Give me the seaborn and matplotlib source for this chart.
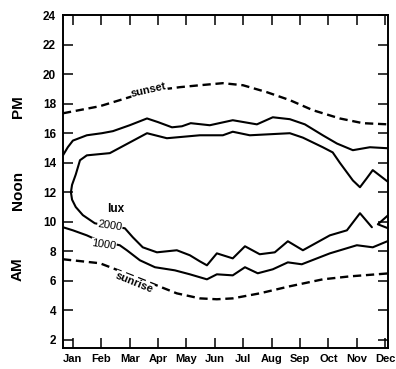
import seaborn as sns
import pandas as pd
import matplotlib.pyplot as plt
import matplotlib.transforms as mtransforms

months = ['Jan', 'Feb', 'Mar', 'Apr', 'May', 'Jun', 'Jul', 'Aug', 'Sep', 'Oct', 'Nov', 'Dec']
hour_ticks = list(range(2, 25, 2))

# month position: 0 = Jan ... 11 = Dec, values are hours of the day
sunset_m = [-0.35, 0.95, 1.65, 2.68, 3.77, 4.47, 5.28, 5.99, 6.83, 7.64, 8.45, 9.4, 10.21, 11.1]
sunset_h = [17.35, 17.83, 18.24, 18.85, 19.12, 19.25, 19.39, 19.25, 18.78, 18.24, 17.56, 17.0, 16.68, 16.6]

sunrise_m = [-0.35, 0.95, 2.15, 3.66, 4.47, 5.07, 5.63, 6.58, 7.64, 8.8, 9.75, 11.1]
sunrise_h = [7.46, 7.19, 6.3, 5.15, 4.81, 4.75, 4.81, 5.15, 5.63, 6.1, 6.3, 6.5]

lux1000_pm_m = [-0.35, -0.18, 0, 0.49, 1.02, 1.41, 2.0, 2.61, 3.0, 3.49, 3.84, 4.15, 4.82,
                5.63, 6.48, 7.04, 7.64, 8.17, 8.8, 9.3, 9.86, 10.46, 11.1]
lux1000_pm_h = [14.5, 15.05, 15.5, 15.86, 16.0, 16.14, 16.54, 17.0, 16.75, 16.4, 16.47, 16.68, 16.54,
                16.88, 16.6, 17.08, 16.95, 16.6, 15.86, 15.3, 14.85, 15.05, 14.98]

lux1000_am_m = [-0.35, 0, 0.49, 0.95, 1.65, 1.9, 2.36, 2.89, 3.59, 4.12, 4.72, 5.07, 5.63,
                6.06, 6.51, 7.04, 7.57, 8.06, 9.05, 10.0, 10.56, 11.1]
lux1000_am_h = [9.63, 9.42, 9.08, 8.68, 8.41, 8.07, 7.39, 6.92, 6.71, 6.44, 6.1, 6.44, 6.37,
                6.92, 6.51, 6.78, 7.25, 7.12, 7.86, 8.41, 8.27, 8.7]

# 2000 lux contour, traced from the right edge (evening) round the left end to the morning side
lux2000_m = [11.1, 10.56, 10.35, 10.11, 9.86, 9.4, 9.15, 8.8, 8.1, 7.64, 6.23, 5.63, 5.28, 4.47,
             3.31, 2.61, 1.3, 0.49, 0.25, 0.1, -0.03, -0.07, -0.03, 0.1, 0.35, 0.77, 1.3, 1.83,
             2.11, 2.46, 2.96, 3.66, 4.12, 4.47, 4.72, 5.07, 5.63, 6.06, 6.58, 7.11, 7.57, 8.1,
             9.05, 9.65, 10.11, 10.53]
lux2000_h = [12.7, 13.5, 12.95, 12.34, 12.8, 14.0, 14.7, 15.05, 15.7, 16.0, 15.86, 16.1, 15.86, 15.86,
             15.66, 16.0, 14.65, 14.5, 14.17, 13.2, 12.5, 12.0, 11.5, 11.0, 10.45, 9.9, 9.7, 9.56,
             8.95, 8.27, 7.93, 8.07, 7.73, 7.32, 7.05, 7.86, 7.52, 8.34, 7.8, 7.93, 8.68, 8.07,
             9.08, 9.42, 10.58, 9.63]
lux2000_end_m = [11.1, 10.74, 11.1]
lux2000_end_h = [10.44, 9.83, 9.56]

sns.set_theme(style='ticks')
plt.rcParams['font.family'] = ['Liberation Sans', 'DejaVu Sans']
plt.rcParams.update({'text.color': 'black', 'xtick.color': 'black', 'ytick.color': 'black',
                     'axes.edgecolor': 'black'})

fig = plt.figure(figsize=(3.96, 3.69), dpi=100)
ax = fig.add_axes([0.159, 0.057, 0.821, 0.902])

kw = dict(color='black', sort=False, estimator=None, ax=ax, legend=False)
sns.lineplot(x=sunset_m, y=sunset_h, linewidth=1.7, **kw)
sns.lineplot(x=sunrise_m, y=sunrise_h, linewidth=1.7, **kw)
for ln in ax.lines:
    ln.set_dashes((3.5, 2))
sns.lineplot(x=lux1000_pm_m, y=lux1000_pm_h, linewidth=1.5, **kw)
sns.lineplot(x=lux1000_am_m, y=lux1000_am_h, linewidth=1.5, **kw)
sns.lineplot(x=lux2000_m, y=lux2000_h, linewidth=1.5, **kw)
sns.lineplot(x=lux2000_end_m, y=lux2000_end_h, linewidth=1.5, **kw)

ax.set_xlim(-0.35, 11.1)
ax.set_ylim(1.45, 24)
ax.set_xticks(range(12))
ax.set_xticklabels(months, fontsize=8, fontweight='bold')
ax.set_yticks(hour_ticks)
ax.set_yticklabels([str(t) for t in hour_ticks], fontsize=8.5, fontweight='bold')
ax.tick_params(direction='in', length=7, width=1.1, top=True, right=True)
ax.tick_params(axis='x', pad=4)
ax.tick_params(axis='y', pad=5)
for sp in ax.spines.values():
    sp.set_linewidth(1.4)
ax.set_xlabel('')
ax.set_ylabel('')

box = dict(facecolor='white', edgecolor='none', pad=0.3)
ax.text(2.68, 18.9, 'sunset', fontsize=8, fontweight='bold', rotation=13,
        ha='center', va='center', bbox=box)
ax.text(2.15, 5.9, 'sunrise', fontsize=8, fontweight='bold', rotation=-22,
        ha='center', va='center', bbox=box)
ax.text(1.51, 10.85, 'lux', fontsize=8.5, fontweight='bold', ha='center', va='center')
ax.text(1.3, 9.7, '2000', fontsize=8, rotation=-8, ha='center', va='center', bbox=box)
ax.text(1.09, 8.45, '1000', fontsize=8, rotation=-8, ha='center', va='center', bbox=box)

trans = mtransforms.blended_transform_factory(ax.transAxes, ax.transData)
for lab, yy in [('PM', 17.8), ('Noon', 12.1), ('AM', 6.8)]:
    ax.text(-0.138, yy, lab, transform=trans, rotation=90, fontsize=11,
            fontweight='bold', ha='center', va='center')

fig.savefig('out.png', dpi=100)
